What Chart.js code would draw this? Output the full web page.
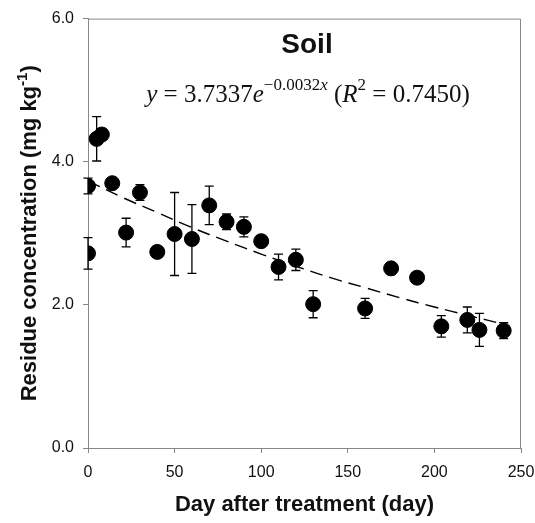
<!DOCTYPE html>
<html>
<head>
<meta charset="utf-8">
<script src="https://cdn.jsdelivr.net/npm/chart.js@4/dist/chart.umd.min.js"></script>
<style>
    html, body { margin: 0; padding: 0; background: #fff; }
    #wrap { width: 535px; height: 523px; }
</style>
</head>
<body>
<div id="wrap"><canvas id="soilChart" width="535" height="523"></canvas></div>
<script>
const days = [0, 0, 5, 8, 14, 22, 30, 40, 50, 60, 70, 80, 90, 100, 110, 120, 130, 160, 175, 190, 204, 219, 226, 240];
const residue = [3.66, 2.72, 4.32, 4.38, 3.70, 3.01, 3.57, 2.74, 2.99, 2.92, 3.39, 3.16, 3.09, 2.89, 2.53, 2.63, 2.01, 1.95, 2.51, 2.38, 1.70, 1.79, 1.65, 1.64];
const errors = [0.11, 0.22, 0.31, 0.04, 0.03, 0.20, 0.11, 0.03, 0.58, 0.48, 0.27, 0.11, 0.14, 0.06, 0.18, 0.15, 0.19, 0.14, 0.08, 0.04, 0.15, 0.18, 0.23, 0.11];

// fitted curve
const fitDays = [0, 20, 40, 60, 80, 100, 120, 140, 160, 180, 200, 220, 240];
const fitValues = [3.73, 3.50, 3.29, 3.08, 2.89, 2.71, 2.54, 2.38, 2.24, 2.10, 1.97, 1.85, 1.73];

const xTicks = [0, 50, 100, 150, 200, 250];
const yTicks = [0, 2, 4, 6];

const axisGray = '#888888';
const textColor = '#111111';
const sans = '"Liberation Sans", Arial, sans-serif';

const errorBars = {
    id: 'errorBars',
    beforeDatasetsDraw(chart) {
        const { ctx, scales: { x, y } } = chart;
        ctx.save();
        ctx.strokeStyle = '#000';
        ctx.lineWidth = 1.3;
        days.forEach((d, i) => {
            const px = x.getPixelForValue(d);
            const top = y.getPixelForValue(residue[i] + errors[i]);
            const bot = y.getPixelForValue(residue[i] - errors[i]);
            ctx.beginPath();
            ctx.moveTo(px, top); ctx.lineTo(px, bot);
            ctx.moveTo(px - 4.5, top); ctx.lineTo(px + 4.5, top);
            ctx.moveTo(px - 4.5, bot); ctx.lineTo(px + 4.5, bot);
            ctx.stroke();
        });
        ctx.restore();
    }
};

const decorations = {
    id: 'decorations',
    afterDraw(chart) {
        const { ctx, chartArea: a } = chart;
        ctx.save();

        // top and right frame
        ctx.strokeStyle = axisGray;
        ctx.lineWidth = 1;
        ctx.beginPath();
        ctx.moveTo(a.left, a.top + 0.5);
        ctx.lineTo(a.right - 0.5, a.top + 0.5);
        ctx.lineTo(a.right - 0.5, a.bottom);
        ctx.stroke();

        ctx.fillStyle = textColor;

        // title
        ctx.font = 'bold 28px ' + sans;
        ctx.textAlign = 'center';
        ctx.textBaseline = 'alphabetic';
        ctx.fillText('Soil', 307, 53);

        // equation
        const big = 25, small = 17;
        const serif = '"Liberation Serif", "DejaVu Serif", serif';
        const parts = [
            { t: 'y', it: true },
            { t: ' = 3.7337' },
            { t: 'e', it: true },
            { t: '\u22120.0032', sup: true },
            { t: 'x', it: true, sup: true },
            { t: ' (' },
            { t: 'R', it: true },
            { t: '2', sup: true },
            { t: ' = 0.7450)' }
        ];
        const fontFor = p => (p.it ? 'italic ' : '') + (p.sup ? small : big) + 'px ' + serif;
        let total = 0;
        parts.forEach(p => { ctx.font = fontFor(p); total += ctx.measureText(p.t).width; });
        let cx = 308 - total / 2;
        ctx.textAlign = 'left';
        parts.forEach(p => {
            ctx.font = fontFor(p);
            ctx.fillText(p.t, cx, p.sup ? 90 : 102);
            cx += ctx.measureText(p.t).width;
        });

        // x axis title
        ctx.font = 'bold 22px ' + sans;
        ctx.textAlign = 'center';
        ctx.fillText('Day after treatment (day)', (a.left + a.right) / 2, 511);

        // y axis title with superscript
        ctx.translate(36, (a.top + a.bottom) / 2);
        ctx.rotate(-Math.PI / 2);
        const main = 'Residue concentration (mg kg';
        const supTxt = '-1';
        const close = ')';
        ctx.font = 'bold 22px ' + sans;
        const wMain = ctx.measureText(main).width;
        const wClose = ctx.measureText(close).width;
        ctx.font = 'bold 15px ' + sans;
        const wSup = ctx.measureText(supTxt).width;
        let sx = -(wMain + wSup + wClose) / 2;
        ctx.textAlign = 'left';
        ctx.font = 'bold 22px ' + sans;
        ctx.fillText(main, sx, 0);
        sx += wMain;
        ctx.font = 'bold 15px ' + sans;
        ctx.fillText(supTxt, sx, -9);
        sx += wSup;
        ctx.font = 'bold 22px ' + sans;
        ctx.fillText(close, sx, 0);

        ctx.restore();
    }
};

new Chart(document.getElementById('soilChart'), {
    type: 'scatter',
    data: {
        datasets: [
            {
                type: 'line',
                data: fitDays.map((d, i) => ({ x: d, y: fitValues[i] })),
                borderColor: '#000',
                borderWidth: 1.4,
                borderDash: [13, 7],
                pointRadius: 0,
                tension: 0.4,
                fill: false,
                order: 2
            },
            {
                data: days.map((d, i) => ({ x: d, y: residue[i] })),
                backgroundColor: '#000',
                borderColor: '#000',
                borderWidth: 1,
                pointRadius: 7.5,
                order: 1
            }
        ]
    },
    options: {
        responsive: false,
        animation: false,
        layout: { padding: { top: 16, right: 14, left: 0, bottom: 0 } },
        plugins: {
            legend: { display: false },
            tooltip: { enabled: false }
        },
        scales: {
            x: {
                type: 'linear',
                min: 0,
                max: 250,
                afterBuildTicks: s => { s.ticks = xTicks.map(v => ({ value: v })); },
                afterFit: s => { s.height = 75; s.paddingRight = 0; s.paddingLeft = 0; },
                grid: { display: true, drawOnChartArea: false, drawTicks: true, tickLength: 5, color: axisGray },
                border: { color: axisGray, width: 1 },
                ticks: {
                    color: textColor,
                    padding: 10,
                    maxRotation: 0,
                    font: { family: sans, size: 16 }
                }
            },
            y: {
                min: 0,
                max: 6,
                afterBuildTicks: s => { s.ticks = yTicks.map(v => ({ value: v })); },
                afterFit: s => { s.width = 88; },
                grid: { display: true, drawOnChartArea: false, drawTicks: true, tickLength: 5, color: axisGray },
                border: { color: axisGray, width: 1 },
                ticks: {
                    color: textColor,
                    padding: 9,
                    callback: v => v.toFixed(1),
                    font: { family: sans, size: 16 }
                }
            }
        }
    },
    plugins: [errorBars, decorations]
});
</script>
</body>
</html>
